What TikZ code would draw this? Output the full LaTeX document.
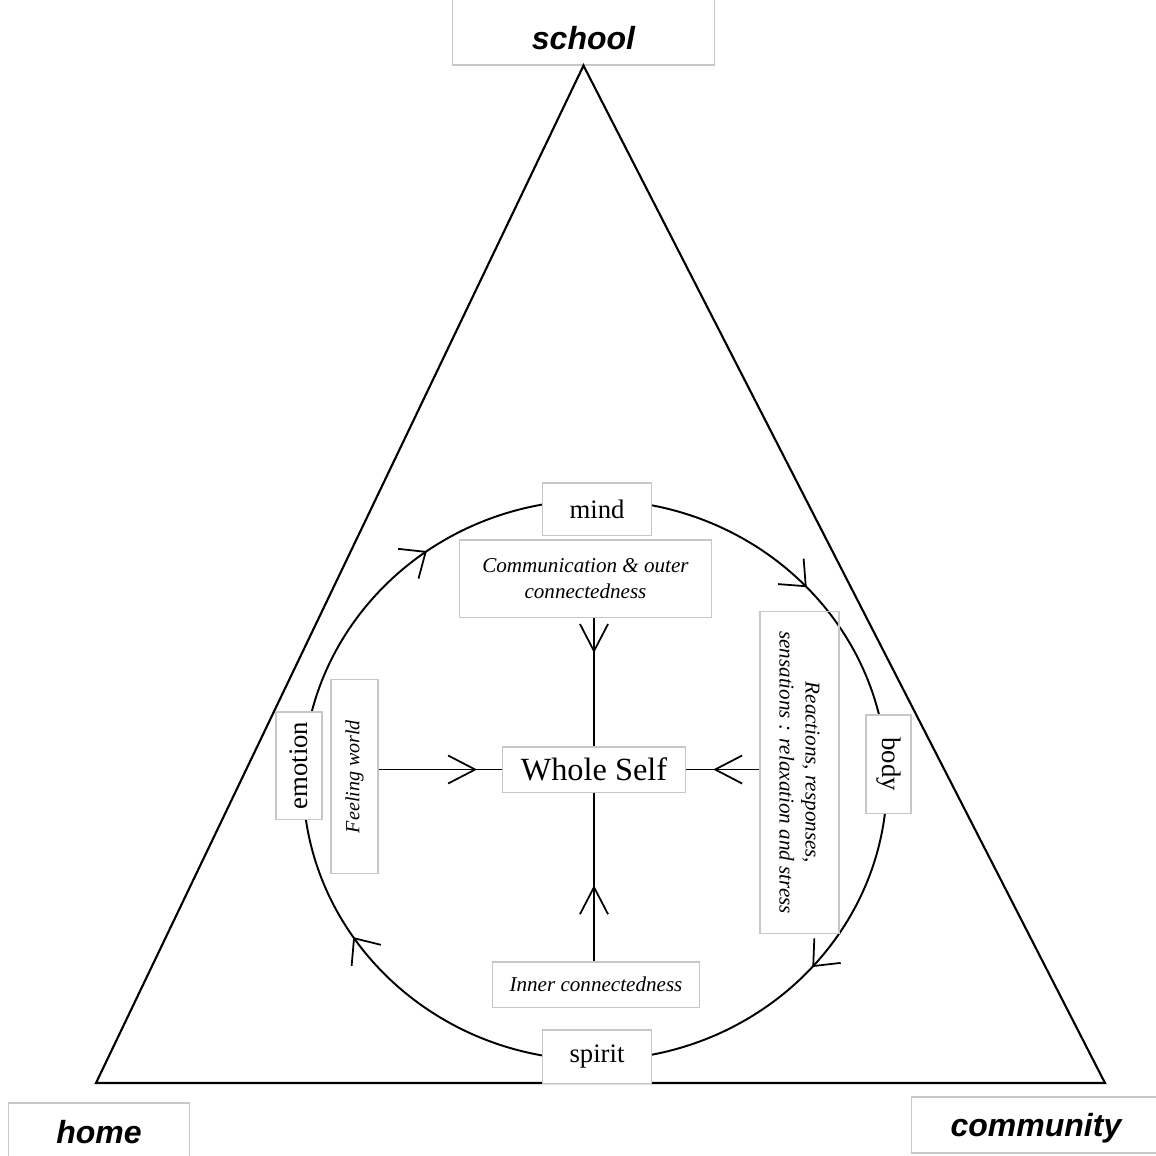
\documentclass[tikz,border=0pt]{standalone}
\usepackage{fontspec}
\setmainfont{Liberation Serif}
\newfontfamily\cornerfont{Liberation Sans}
\usetikzlibrary{decorations.markings}

\newcommand\linktip{\draw[line width=0.5pt] (-0.27cm,0.14cm) -- (0,0) -- (-0.27cm,-0.14cm);}
\newcommand\ringtip{\draw[line width=0.5pt] (-0.21cm,0.18cm) -- (0,0) -- (-0.21cm,-0.18cm);}

\begin{document}
\begin{tikzpicture}[x=0.01cm, y=-0.01cm, every node/.style={inner sep=0pt},
                    box/.style={draw=black!22, line width=0.3pt, fill=white},
                    corner/.style={box, anchor=base, font=\fontsize{9.1}{11}\cornerfont\bfseries\itshape},
                    part/.style={box, font=\fontsize{7.6}{9}\selectfont},
                    note/.style={draw=black!22, line width=0.3pt, align=center,
                                 font=\fontsize{6}{7.6}\selectfont\itshape},
                    link/.style={line width=0.5pt, postaction=decorate,
                                 decoration={markings, mark=at position #1 with {\linktip}}},
                    ring/.style={line width=0.55pt, postaction=decorate,
                                 decoration={markings,
                                             mark=at position 0.114 with {\ringtip},
                                             mark=at position 0.406 with {\ringtip},
                                             mark=at position 0.650 with {\ringtip},
                                             mark=at position 0.880 with {\ringtip}}}]

\clip (0,0) rectangle (1156,1156);

% settings round the self
\node[corner, minimum width=2.61cm, text height=0.68cm, text depth=0.16cm] (school) at (583.5,49) {school};
\node[corner, minimum width=1.80cm, text height=0.40cm, text depth=0.32cm] (home) at (99,1143) {home};
\node[corner, minimum width=2.48cm, text height=0.39cm, text depth=0.17cm] (community) at (1036,1136) {community};

\coordinate (lc) at (96,1083);
\coordinate (rc) at (1105,1083);
\draw[line width=0.6pt] (school.south) -- (rc) -- (lc) -- cycle;

% the cycle
\coordinate (hub) at (595,780);
\draw[ring] (hub) ellipse [x radius=292, y radius=280];

\node[part, minimum width=1.08cm, minimum height=0.52cm] (mind) at (597,509) {mind};
\node[part, rotate=-90, minimum width=0.98cm, minimum height=0.45cm] (body) at (888.5,764) {body};
\node[part, minimum width=1.08cm, minimum height=0.53cm] (spirit) at (597,1056.5) {spirit};
\node[part, rotate=90, minimum width=1.07cm, minimum height=0.46cm] (emotion) at (299,765.5) {emotion};

% inner links
\node[box, minimum width=1.82cm, minimum height=0.45cm, font=\fontsize{9.2}{11}\selectfont] (whole) at (594,769.5) {Whole Self};
\node[note, minimum width=2.51cm, minimum height=0.77cm] (comm) at (585.5,578.5) {Communication \& outer\\connectedness};
\node[note, rotate=-90, minimum width=3.21cm, minimum height=0.79cm, font=\fontsize{6}{7.4}\selectfont\itshape] (react) at (799.5,772.5) {Reactions, responses,\\sensations : relaxation and stress};
\node[note, minimum width=2.06cm, minimum height=0.45cm] (inner) at (596,984.5) {Inner connectedness};
\node[note, rotate=90, minimum width=1.93cm, minimum height=0.47cm, font=\fontsize{5.7}{7}\selectfont\itshape] (feel) at (354.5,776.5) {Feeling world};

\draw[link=0.26] (whole |- comm.south) -- (whole.north);
\draw[link=0.44] (whole |- inner.north) -- (whole.south);
\draw[link=0.78] (feel.south |- whole) -- (whole.west);
\draw[link=0.60] (react.south |- whole) -- (whole.east);
\end{tikzpicture}
\end{document}
